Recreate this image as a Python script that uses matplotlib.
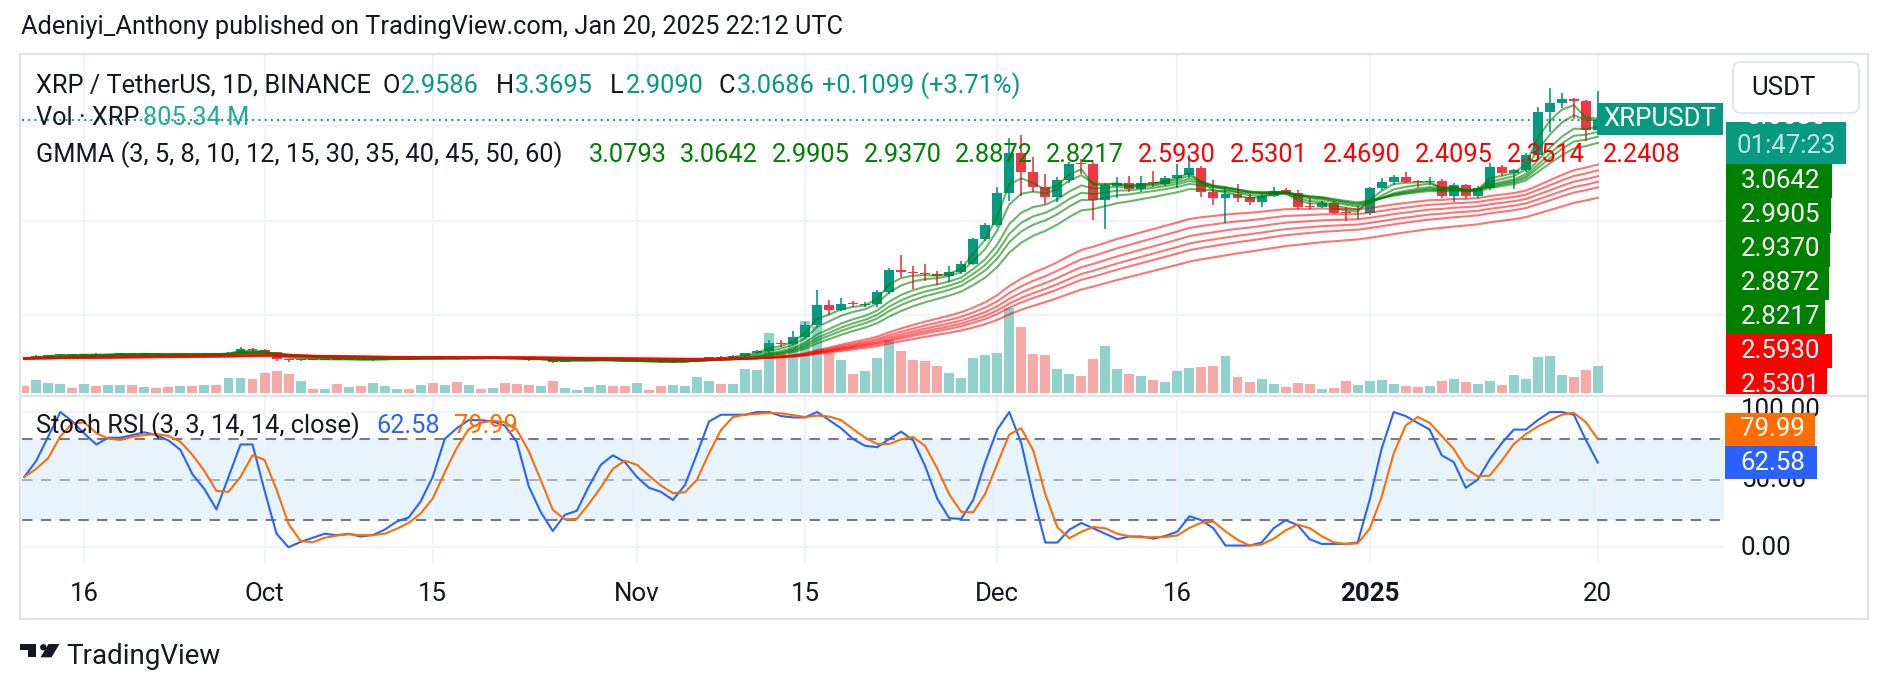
import numpy as np
import pandas as pd
import matplotlib
matplotlib.use("Agg")
import matplotlib.pyplot as plt
import matplotlib.dates as mdates
from matplotlib.patches import Rectangle, FancyBboxPatch, Polygon, Circle
from matplotlib.lines import Line2D
from matplotlib.transforms import blended_transform_factory

plt.rcParams['font.family'] = ['Roboto', 'DejaVu Sans']

W, H = 1888, 690

# daily candles, 2024-09-11 .. 2025-01-20
dates = pd.date_range('2024-09-11', '2025-01-20', freq='D')

opens = [
    # Sep 11-30
    .548, .540, .566, .575, .586, .578, .583, .578, .585, .590,
    .584, .592, .585, .580, .588, .582, .588, .584, .600, .645,
    # Oct
    .625, .605, .530, .525, .530, .527, .532, .527, .531, .524,
    .528, .535, .540, .536, .548, .541, .546, .541, .548, .545,
    .549, .542, .536, .525, .530, .506, .512, .518, .520, .525, .518,
    # Nov
    .508, .512, .505, .500, .503, .510, .535, .553, .548, .567,
    .595, .620, .702, .695, .770, .895, 1.110, 1.050, 1.125, 1.110,
    1.120, 1.240, 1.480, 1.460, 1.440, 1.430, 1.410, 1.460, 1.545, 1.805,
    # Dec
    1.950, 2.290, 2.720, 2.510, 2.350, 2.250, 2.425, 2.610, 2.595, 2.220,
    2.370, 2.400, 2.335, 2.410, 2.390, 2.450, 2.480, 2.560, 2.300, 2.235,
    2.280, 2.245, 2.200, 2.260, 2.320, 2.295, 2.150, 2.145, 2.190, 2.090, 2.075,
    # Jan
    2.082, 2.340, 2.410, 2.460, 2.420, 2.410, 2.420, 2.260, 2.375, 2.260,
    2.340, 2.570, 2.500, 2.530, 2.690, 3.150, 3.240, 3.290, 3.270, 2.9586,
]
highs = [
    .552, .572, .582, .590, .590, .588, .593, .590, .598, .595,
    .596, .595, .592, .592, .592, .594, .593, .610, .660, .650,
    .640, .612, .538, .535, .534, .536, .545, .535, .536, .533,
    .540, .543, .542, .552, .555, .550, .552, .552, .550, .553,
    .555, .546, .540, .533, .535, .516, .520, .524, .532, .528, .521,
    .518, .515, .508, .510, .515, .545, .560, .562, .575, .600,
    .630, .735, .740, .830, .930, 1.265, 1.160, 1.180, 1.150, 1.140,
    1.265, 1.500, 1.630, 1.520, 1.540, 1.470, 1.520, 1.570, 1.820, 1.970,
    2.360, 2.870, 2.910, 2.670, 2.490, 2.460, 2.620, 2.650, 2.620, 2.400,
    2.460, 2.470, 2.470, 2.520, 2.470, 2.600, 2.690, 2.580, 2.430, 2.350,
    2.386, 2.280, 2.280, 2.350, 2.340, 2.320, 2.235, 2.210, 2.210, 2.146, 2.150,
    2.360, 2.450, 2.480, 2.516, 2.430, 2.460, 2.440, 2.400, 2.390, 2.370,
    2.605, 2.590, 2.550, 2.720, 3.200, 3.400, 3.350, 3.300, 3.280, 3.3695,
]
lows = [
    .532, .538, .560, .571, .570, .562, .574, .565, .582, .578,
    .582, .578, .575, .574, .578, .578, .580, .582, .598, .605,
    .590, .515, .505, .508, .522, .524, .522, .522, .520, .518,
    .525, .532, .530, .533, .535, .538, .537, .538, .541, .541,
    .535, .530, .518, .520, .495, .502, .508, .510, .516, .513, .503,
    .500, .500, .490, .493, .498, .505, .530, .540, .545, .560,
    .585, .600, .660, .680, .760, .870, 1.000, 1.040, 1.080, 1.080,
    1.090, 1.220, 1.400, 1.280, 1.360, 1.320, 1.350, 1.430, 1.530, 1.780,
    1.930, 2.210, 2.260, 2.300, 2.180, 2.200, 2.400, 2.490, 2.010, 1.910,
    2.240, 2.300, 2.300, 2.350, 2.370, 2.340, 2.450, 2.250, 2.160, 1.970,
    2.200, 2.165, 2.140, 2.250, 2.270, 2.120, 2.118, 2.130, 2.070, 2.000, 2.020,
    2.060, 2.320, 2.380, 2.400, 2.340, 2.380, 2.240, 2.200, 2.230, 2.240,
    2.320, 2.470, 2.330, 2.510, 2.660, 2.940, 3.187, 3.070, 2.840, 2.9090,
]
closes = [
    .540, .566, .575, .586, .578, .583, .578, .585, .590, .584,
    .592, .585, .580, .588, .582, .588, .584, .600, .645, .625,
    .605, .530, .525, .530, .527, .532, .527, .531, .524, .528,
    .535, .540, .536, .548, .541, .546, .541, .548, .545, .549,
    .542, .536, .525, .530, .506, .512, .518, .520, .525, .518, .508,
    .512, .505, .500, .503, .510, .535, .553, .548, .567, .595,
    .620, .700, .695, .765, .895, 1.110, 1.050, 1.115, 1.112, 1.120,
    1.240, 1.475, 1.460, 1.440, 1.430, 1.410, 1.460, 1.545, 1.805, 1.950,
    2.290, 2.720, 2.510, 2.350, 2.250, 2.425, 2.600, 2.595, 2.220, 2.375,
    2.400, 2.335, 2.400, 2.400, 2.450, 2.480, 2.560, 2.300, 2.235, 2.280,
    2.235, 2.200, 2.260, 2.315, 2.295, 2.146, 2.140, 2.190, 2.085, 2.075, 2.082,
    2.340, 2.410, 2.460, 2.410, 2.410, 2.420, 2.260, 2.375, 2.260, 2.340,
    2.570, 2.500, 2.530, 2.690, 3.150, 3.240, 3.290, 3.270, 2.9586, 3.0686,
]
# volume, millions of XRP
volumes = [
    210, 390, 300, 270, 150, 270, 210, 240, 240, 240,
    180, 150, 180, 210, 210, 240, 240, 450, 450, 420,
    600, 660, 570, 360, 120, 120, 270, 180, 210, 300,
    210, 120, 120, 240, 300, 240, 330, 240, 120, 150,
    300, 270, 240, 210, 360, 150, 90, 180, 240, 210, 210,
    300, 90, 210, 240, 210, 480, 360, 270, 270, 720,
    690, 1770, 1200, 1650, 2130, 1980, 1200, 990, 570, 660,
    1050, 1590, 1260, 990, 960, 810, 600, 450, 1050, 1140,
    1200, 2520, 1950, 1170, 1140, 720, 570, 510, 1020, 1410,
    720, 570, 510, 390, 330, 660, 750, 780, 810, 1110,
    480, 330, 420, 270, 180, 300, 270, 120, 150, 360, 240,
    360, 390, 270, 210, 180, 210, 360, 420, 330, 270,
    360, 240, 540, 420, 1080, 1110, 540, 480, 690, 805.34,
]
# Stoch RSI %K
stoch_k = [
    52, 64, 82, 100, 93, 84, 76, 81, 81, 83,
    85, 83, 79, 72, 54, 43, 28, 52, 76, 76,
    42, 10, 0, 4, 7, 10, 9, 10, 8, 9,
    13, 19, 22, 34, 52, 80, 88, 94, 94, 93,
    90, 78, 45, 26, 12, 24, 27, 45, 61, 68, 63,
    52, 44, 41, 35, 46, 69, 93, 98, 98, 98,
    100, 100, 97, 96, 96, 100, 94, 88, 80, 75,
    74, 80, 85.5, 79, 60, 36, 21.5, 21, 35, 63,
    87, 100, 77, 37.5, 3.5, 3.5, 13, 18, 14, 10,
    6, 8, 8, 6.4, 8.4, 11.6, 23, 20, 14, 1.3,
    1.3, 1.3, 3.5, 14, 20, 16.5, 6, 2.5, 2.5, 2.5, 3.5,
    35, 73, 100, 97, 92, 87, 68, 63, 44, 50,
    65, 77, 87, 87, 94, 100, 100, 98, 79.4, 62.58,
]
gmma_short = [3, 5, 8, 10, 12, 15]
gmma_long = [30, 35, 40, 45, 50, 60]
gmma_short_vals = ['3.0793', '3.0642', '2.9905', '2.9370', '2.8872', '2.8217']
gmma_long_vals = ['2.5930', '2.5301', '2.4690', '2.4095', '2.3514', '2.2408']
tick_dates = ['2024-09-16', '2024-10-01', '2024-10-15', '2024-11-01', '2024-11-15',
              '2024-12-01', '2024-12-16', '2025-01-01', '2025-01-20']
tick_labels = ['16', 'Oct', '15', 'Nov', '15', 'Dec', '16', '2025', '20']

UP, DOWN = '#089981', '#F23645'
TXT = '#131722'
GRID = '#F0F3FA'
BORDER = '#E0E3EB'
FS = 18.3      # legend text
FL = 18.6      # scale labels

x = mdates.date2num(dates)
o, h, l, c = map(np.array, (opens, highs, lows, closes))
up = c >= o

fig = plt.figure(figsize=(W / 100, H / 100), dpi=100)
fig.patch.set_facecolor('white')


def rect(left, top, right, bottom):
    return [left / W, 1 - bottom / H, (right - left) / W, (bottom - top) / H]


# x range: 12.013 px per day, Sep 16 at x=84.3
d0 = mdates.date2num(pd.Timestamp('2024-09-16'))
xlim = (d0 - 5.19, d0 + 136.5)
ticks = mdates.date2num(pd.to_datetime(tick_dates))

# ---- price pane (volume axes underneath) ----
ax_vol = fig.add_axes(rect(22, 55, 1724, 395))
ax_price = fig.add_axes(rect(22, 55, 1724, 395), sharex=ax_vol)
ax_price.patch.set_visible(False)
for a in (ax_vol, ax_price):
    for s in a.spines.values():
        s.set_visible(False)
    a.tick_params(left=False, bottom=False, labelleft=False, labelbottom=False)
ax_vol.set_xlim(*xlim)
ax_price.set_ylim(0.1534, 3.752)
ax_vol.set_ylim(-70, 10100)

ax_vol.set_xticks(ticks)
ax_vol.grid(axis='x', color=GRID, lw=1.5)
ax_vol.hlines([1, 2, 3], 0, 1, color=GRID, lw=1.5,
              transform=blended_transform_factory(ax_vol.transAxes, ax_price.transData))

vol_col = np.where(up, '#92D2CC', '#F7A9A7')
ax_vol.bar(x, volumes, width=0.83, color=vol_col, zorder=2)

cols = np.where(up, UP, DOWN)
ax_price.vlines(x, l, h, color=cols, lw=1.2, zorder=2)
min_body = 0.009
body_lo = np.minimum(o, c)
body_h = np.maximum(np.abs(c - o), min_body)
ax_price.bar(x, body_h, bottom=body_lo, width=0.83, color=cols, zorder=3)

cs = pd.Series(closes)
for n in gmma_short:
    ax_price.plot(x, cs.ewm(span=n, adjust=False).mean(), color='#008000', alpha=0.58, lw=1.5, zorder=4)
for n in gmma_long:
    ax_price.plot(x, cs.ewm(span=n, adjust=False).mean(), color='#FF0000', alpha=0.55, lw=1.5, zorder=4)

ax_price.axhline(closes[-1], color=UP, ls=(0, (1, 2.2)), lw=1.4, zorder=5)

# ---- stoch rsi pane ----
ax_st = fig.add_axes(rect(22, 397, 1724, 563), sharex=ax_vol)
for s in ax_st.spines.values():
    s.set_visible(False)
ax_st.tick_params(left=False, bottom=False, labelleft=False, labelbottom=False)
ax_st.set_ylim(-11.6, 111.1)
ax_st.set_xticks(ticks)
ax_st.grid(axis='x', color=GRID, lw=1.5)
ax_st.axhspan(20, 80, color='#2196F3', alpha=0.1, lw=0)
ax_st.axhline(100, color=GRID, lw=1.5)
ax_st.axhline(0, color=GRID, lw=1.5)
for lev, al in ((80, 1.0), (50, 0.55), (20, 1.0)):
    ax_st.axhline(lev, color='#787B86', alpha=al, lw=1.5, ls=(0, (5, 4)))
k = pd.Series(stoch_k)
dline = k.rolling(3, min_periods=1).mean()
ax_st.plot(x, k, color='#2962FF', lw=1.5, zorder=4)
ax_st.plot(x, dline, color='#FF6D00', lw=1.5, zorder=4)

# time axis labels
tr = blended_transform_factory(ax_st.transData, fig.transFigure)
for t, lab in zip(ticks, tick_labels):
    ax_st.text(t, 1 - 594 / H, lab, transform=tr, ha='center', va='center',
               fontsize=FL, color=TXT, fontweight='bold' if lab == '2025' else 'normal',
               clip_on=False)

# ---- overlay in pixel coordinates ----
ov = fig.add_axes([0, 0, 1, 1])
ov.set_xlim(0, W)
ov.set_ylim(H, 0)
ov.axis('off')
ov.patch.set_visible(False)

# frame
for (x1, y1, x2, y2) in ((20, 54, 1868, 54), (20, 54, 20, 619), (1868, 54, 1868, 619),
                         (20, 619, 1868, 619), (20, 395.5, 1868, 395.5)):
    ov.add_line(Line2D([x1, x2], [y1, y2], color=BORDER, lw=1.6))


def text_at(items, y0, size=FS):
    for xx, s, col in items:
        ov.text(xx, y0, s, color=col, fontsize=size, ha='left', va='center')


def clipped_text(xx, yy, s, col, top, bottom, size=FL, z=5):
    t = ov.text(xx, yy, s, color=col, fontsize=size, ha='left', va='center', zorder=z)
    clip = Rectangle((1720, top), 160, bottom - top, transform=ov.transData)
    t.set_clip_path(clip)
    return t


ov.text(21, 27, 'Adeniyi_Anthony published on TradingView.com, Jan 20, 2025 22:12 UTC',
        fontsize=FS, color=TXT, ha='left', va='center')

text_at([(36, 'XRP / TetherUS, 1D, BINANCE', TXT), (382, 'O', TXT), (401, '2.9586', UP),
         (496, 'H', TXT), (515, '3.3695', UP), (610, 'L', TXT), (626, '2.9090', UP),
         (718, 'C', TXT), (737, '3.0686', UP), (822, '+0.1099 (+3.71%)', UP)], 86)
text_at([(36, 'Vol · XRP', TXT), (143, '805.34 M', '#22AB94')], 118)
gmma_x = [589, 680, 772, 864, 955, 1046, 1138, 1230, 1323, 1415, 1507, 1603]
items = [(36, 'GMMA (3, 5, 8, 10, 12, 15, 30, 35, 40, 45, 50, 60)', TXT)]
for i, v in enumerate(gmma_short_vals + gmma_long_vals):
    items.append((gmma_x[i], v, '#008000' if i < 6 else '#FF0000'))
text_at(items, 155)
text_at([(36, 'Stoch RSI (3, 3, 14, 14, close)', TXT), (376, '62.58', '#2962FF'),
         (454, '79.99', '#FF6D00')], 426)


def label_box(x1, y1, x2, y2, fc, txt, tcol='white', tx=None, ty=None, size=FL, z=6):
    ov.add_patch(Rectangle((x1, y1), x2 - x1, y2 - y1, facecolor=fc, edgecolor='none', zorder=z))
    t = ov.text(tx if tx is not None else x1 + 15, ty if ty is not None else (y1 + y2) / 2, txt,
                color=tcol, fontsize=size, ha='left', va='center', zorder=z + 0.5)
    t.set_clip_path(Rectangle((x1, y1), x2 - x1, y2 - y1, transform=ov.transData))
    return t


# last price + countdown (top of it sits under the currency button)
ov.add_patch(Rectangle((1726, 121.5), 120, 42, facecolor=UP, edgecolor='none', zorder=6))
lp = ov.text(1786, 117, '3.0686', color='white', fontsize=FL, ha='center', va='center', zorder=6.5)
lp.set_clip_path(Rectangle((1726, 121.5), 120, 42, transform=ov.transData))
ov.text(1786, 146, '01:47:23', color=(1, 1, 1, 0.75), fontsize=FL, ha='center', va='center', zorder=6.5)
# USDT currency button
ov.add_patch(FancyBboxPatch((1733, 62), 126, 51, boxstyle='round,pad=0,rounding_size=8',
                            facecolor='white', edgecolor=BORDER, lw=1.2, zorder=7))
ov.text(1751, 88, 'USDT', color=TXT, fontsize=FL, ha='left', va='center', zorder=7.5)

# symbol name label
label_box(1597, 103, 1723, 135, UP, 'XRPUSDT', tx=1603)

# GMMA value labels on the price scale (last one is cut by the pane edge)
ys = [164, 198, 232.5, 266.5, 300, 334, 368]
rights = [1832, 1831, 1830, 1829, 1825, 1832, 1827]
vals = gmma_short_vals[1:] + gmma_long_vals[:2]
for i, v in enumerate(vals):
    fc = '#008000' if i < 5 else '#FF0000'
    if i + 1 < len(ys):
        label_box(1726, ys[i], rights[i], ys[i + 1], fc, v)
    else:
        label_box(1726, ys[i], rights[i], 394, fc, v, ty=ys[i] + 17)

# stoch scale values, partly hidden under the value labels
clipped_text(1741, 410, '100.00', TXT, 397, 413)
clipped_text(1741, 480, '50.00', TXT, 479, 500)
ov.text(1741, 548, '0.00', color=TXT, fontsize=FL, ha='left', va='center', zorder=5)
label_box(1725, 413, 1815, 446, '#FF6D00', '79.99')
label_box(1725, 446, 1817, 479, '#2962FF', '62.58')

# TradingView logo
ov.add_patch(Polygon([(20, 644), (36, 644), (36, 657.3), (28, 657.3), (28, 650), (20, 650)],
                     closed=True, facecolor=TXT, edgecolor='none'))
ov.add_patch(Circle((43.3, 647.3), 3.2, facecolor=TXT, edgecolor='none'))
ov.add_patch(Polygon([(48.5, 644), (59.5, 644), (51.5, 657.3), (40.5, 657.3)],
                     closed=True, facecolor=TXT, edgecolor='none'))
ov.text(66, 656, 'TradingView', color=TXT, fontsize=20, ha='left', va='center')

fig.savefig('out.png', dpi=100, facecolor='white')
